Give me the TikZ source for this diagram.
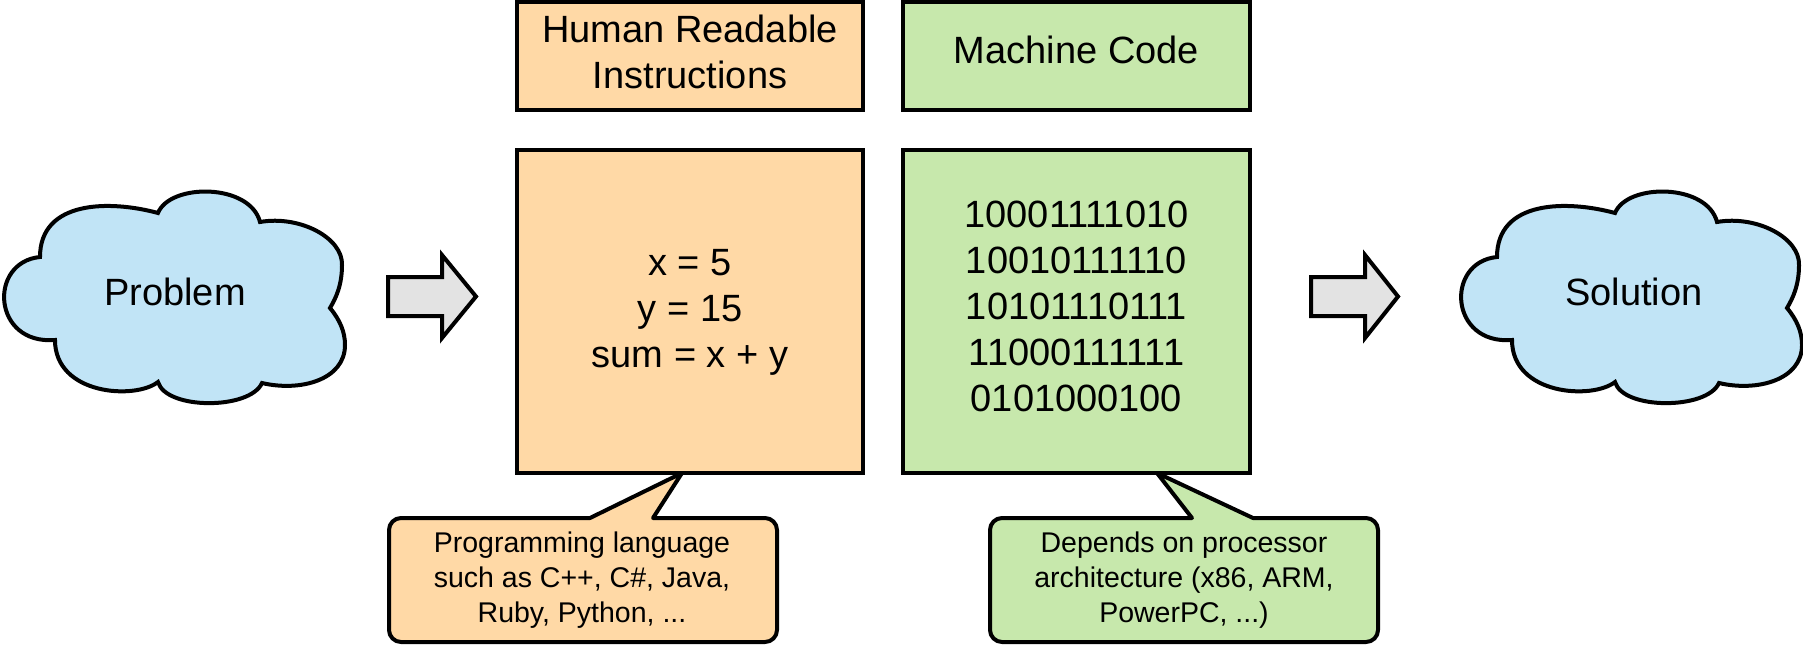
\documentclass[tikz,border=0pt]{standalone}
\usepackage{fontspec}
\setmainfont{Liberation Sans}
\definecolor{orangefill}{HTML}{FFD9A6}
\definecolor{greenfill}{HTML}{C7E8AC}
\definecolor{bluefill}{HTML}{C1E4F6}
\definecolor{arrowfill}{HTML}{E3E3E3}
\newcommand\mycloudshape{%
  (40,257) .. controls (40,200) and (110,200) .. (158,213)
  .. controls (170,183) and (250,183) .. (260,222)
  .. controls (300,215) and (343,238) .. (342,265)
  .. controls (342,285) and (336,298) .. (330,308)
  .. controls (340,320) and (345,332) .. (345,345)
  .. controls (345,380) and (300,392) .. (262,383)
  .. controls (250,410) and (166,410) .. (158,382)
  .. controls (135,400) and (55,395) .. (55,340)
  .. controls (-8,345) and (-12,262) .. (40,257) -- cycle}
\begin{document}
\begin{tikzpicture}[x=1pt,y=-1pt,line width=4pt,
  boxo/.style={draw=black,fill=orangefill,inner sep=0pt},
  boxg/.style={draw=black,fill=greenfill,inner sep=0pt},
  bigtxt/.style={font=\fontsize{38}{46}\selectfont,align=center,inner sep=0pt},
  smalltxt/.style={font=\fontsize{28.5}{35}\selectfont,align=center,inner sep=0pt},
  cloudstyle/.style={draw=black,fill=bluefill,line join=miter},
  blockarrow/.style={draw=black,fill=arrowfill,line join=miter},
  calloutstyle/.style={draw=black,line join=round}]
\useasboundingbox (0,0) rectangle (1803,645);

% clouds
\draw[cloudstyle] \mycloudshape;
\begin{scope}[xshift=1457pt]
\draw[cloudstyle] \mycloudshape;
\end{scope}
\node[bigtxt,anchor=base] (problem) at (175,305) {Problem};
\node[bigtxt,anchor=base] (solution) at (1634,305) {Solution};

% block arrows
\draw[blockarrow] (388,277) -- (442,277) -- (442,255) -- (476,296.5) -- (442,338) -- (442,316) -- (388,316) -- cycle;
\draw[blockarrow] (1311,277) -- (1365,277) -- (1365,255) -- (1398,296.5) -- (1365,338) -- (1365,316) -- (1311,316) -- cycle;

% header boxes
\node[boxo,minimum width=346pt,minimum height=108pt] (hdrh) at (690,56) {};
\node[bigtxt] (hdrhtxt) at (690,52.4) {Human Readable\\Instructions};
\node[boxg,minimum width=347pt,minimum height=108pt] (hdrm) at (1076.5,56) {};
\node[bigtxt,anchor=base] (hdrmtxt) at (1076.5,63) {Machine Code};

% main boxes
\node[boxo,minimum width=346pt,minimum height=323pt] (human) at (690,311.5) {};
\node[bigtxt] (humantxt) at (690,312.5) {x = 5\\y = 15\\sum = x + y};
\node[boxg,minimum width=347pt,minimum height=323pt] (machine) at (1076.5,311.5) {};
\node[bigtxt] (machinetxt) at (1076.5,306.5) {10001111010\\10010111110\\10101110111\\11000111111\\0101000100};

% callouts
\draw[calloutstyle,fill=orangefill] (590,518) -- (682,473) -- (653,518) -- (765,518)
  .. controls (771.6,518) and (777,523.4) .. (777,530) -- (777,630)
  .. controls (777,636.6) and (771.6,642) .. (765,642) -- (401,642)
  .. controls (394.4,642) and (389,636.6) .. (389,630) -- (389,530)
  .. controls (389,523.4) and (394.4,518) .. (401,518) -- cycle;
\node[smalltxt] (note1) at (582,579.8) {Programming language\\such as C++, C\#, Java,\\Ruby, Python, ...};

\draw[calloutstyle,fill=greenfill] (1192,518) -- (1157,473) -- (1253,518) -- (1366,518)
  .. controls (1372.6,518) and (1378,523.4) .. (1378,530) -- (1378,630)
  .. controls (1378,636.6) and (1372.6,642) .. (1366,642) -- (1002,642)
  .. controls (995.4,642) and (990,636.6) .. (990,630) -- (990,530)
  .. controls (990,523.4) and (995.4,518) .. (1002,518) -- cycle;
\node[smalltxt] (note2) at (1184,580) {Depends on processor\\architecture (x86, ARM,\\PowerPC, ...)};
\end{tikzpicture}
\end{document}
